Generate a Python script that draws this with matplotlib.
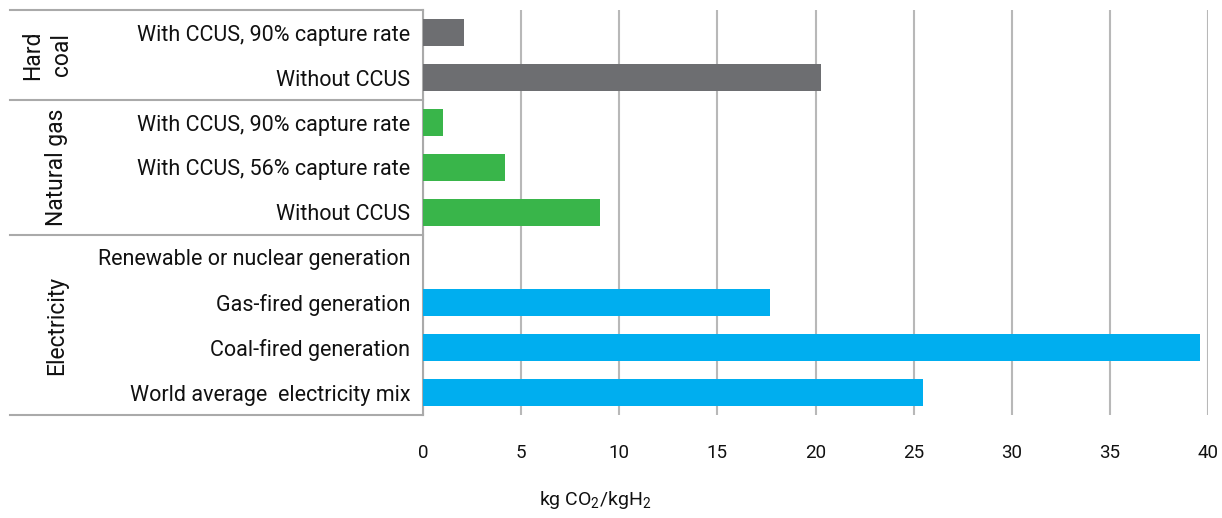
import matplotlib
matplotlib.use("Agg")
import matplotlib.pyplot as plt
from matplotlib.lines import Line2D
import matplotlib.transforms as mtransforms

plt.rcParams['font.family'] = ['Roboto', 'DejaVu Sans']
plt.rcParams['mathtext.fontset'] = 'custom'
plt.rcParams['mathtext.rm'] = 'Roboto'
plt.rcParams['mathtext.it'] = 'Roboto'

# ---- data ----
group_names = ['Hard\ncoal', 'Natural gas', 'Electricity']
group_sizes = [2, 3, 4]
categories = ['With CCUS, 90% capture rate', 'Without CCUS',
              'With CCUS, 90% capture rate', 'With CCUS, 56% capture rate', 'Without CCUS',
              'Renewable or nuclear generation', 'Gas-fired generation',
              'Coal-fired generation', 'World average  electricity mix']
values = [2.1, 20.3, 1.0, 4.2, 9.0, 0.0, 17.7, 39.6, 25.5]
group_colors = ['#6D6E71', '#39B54A', '#00AEEF']
x_ticks = [0, 5, 10, 15, 20, 25, 30, 35, 40]
x_label = r'kg CO$_2$/kgH$_2$'

W, H = 1222, 518
fig = plt.figure(figsize=(W / 100, H / 100), dpi=100)
ax = fig.add_axes([423 / W, 1 - 415 / H, (1208 - 423) / W, (415 - 10) / H])

colors = []
for c, n in zip(group_colors, group_sizes):
    colors += [c] * n
ypos = list(range(len(categories)))
ax.barh(ypos, values, height=0.6, color=colors, zorder=3)

ax.set_ylim(len(categories) - 0.5, -0.5)
ax.set_xlim(0, 40)
ax.set_xticks(x_ticks)
ax.set_yticks(ypos)
ax.set_yticklabels(categories, fontsize=15.5, color='#111111')
ax.tick_params(axis='y', length=0, pad=9)
ax.tick_params(axis='x', length=0, pad=21, labelsize=13.5, labelcolor='#111111')
ax.xaxis.grid(True, color='#B8B8B8', linewidth=1.5, zorder=0)
for s in ['top', 'right', 'bottom']:
    ax.spines[s].set_visible(False)
ax.spines['left'].set_color('#AAAAAA')
ax.spines['left'].set_linewidth(1.5)

fig.text(595 / W, 1 - 500 / H, x_label, ha='center', va='center', fontsize=14, color='#111111')

# table-like group separators
tr = mtransforms.blended_transform_factory(fig.transFigure, ax.transData)
x0 = 10 / W
x1 = 423 / W
bounds = [-0.5]
for n in group_sizes:
    bounds.append(bounds[-1] + n)
for b in bounds:
    fig.add_artist(Line2D([x0, x1], [b, b], transform=tr, color='#AAAAAA', linewidth=1.5, clip_on=False))

# group labels
group_x = [47 / W, 57 / W, 57 / W]
for i, name in enumerate(group_names):
    yc = (bounds[i] + bounds[i + 1]) / 2
    fig.text(group_x[i], yc, name, transform=tr, rotation=90, ha='center', va='center',
             fontsize=16.5, color='#111111', linespacing=1.3)

fig.savefig('out.png', dpi=100)
